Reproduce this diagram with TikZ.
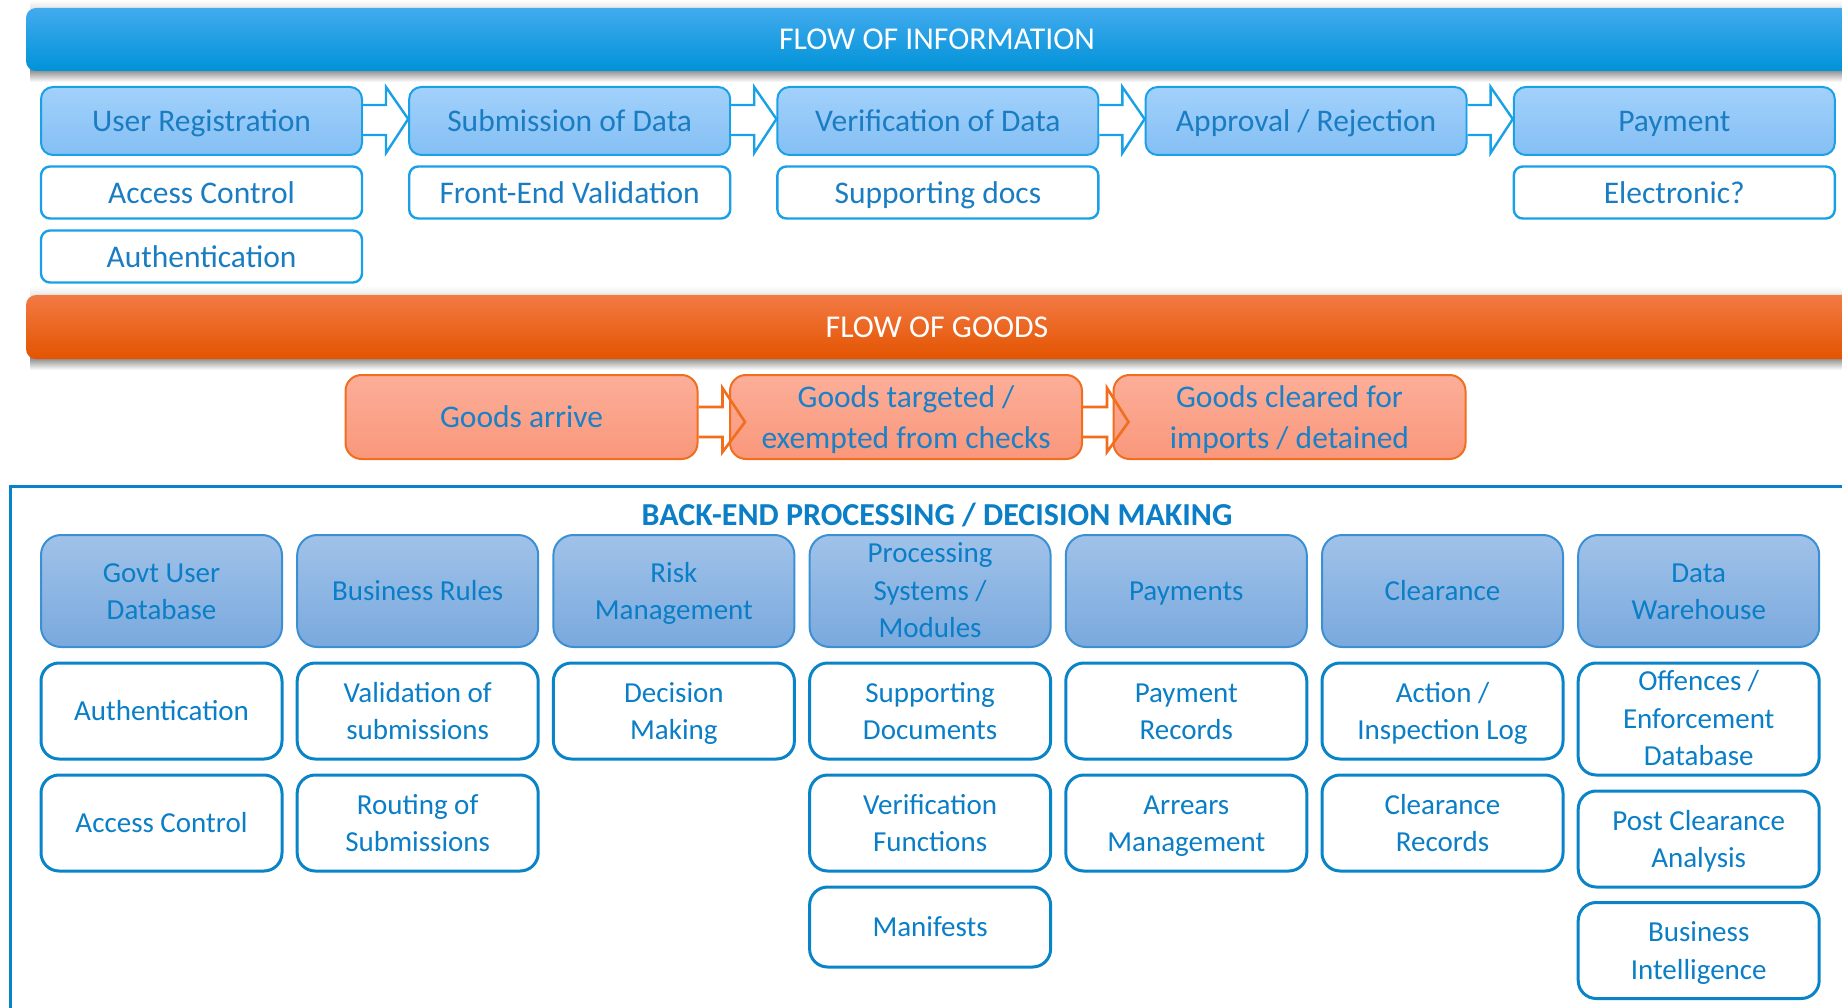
\documentclass[tikz,border=0pt]{standalone}
\usepackage{fontspec}
\setmainfont{Carlito}
\usetikzlibrary{calc}
\definecolor{bannerTop}{HTML}{42ABEE}
\definecolor{bannerMid}{HTML}{02A3E9}
\definecolor{bannerBot}{HTML}{0092D8}
\definecolor{orTop}{HTML}{F37A44}
\definecolor{orMid}{HTML}{F56300}
\definecolor{orBot}{HTML}{E35400}
\definecolor{infoTop}{HTML}{A2D1FB}
\definecolor{infoBot}{HTML}{84BFF4}
\definecolor{infoLine}{HTML}{1AA0E6}
\definecolor{infoText}{HTML}{1A7DC2}
\definecolor{beTop}{HTML}{A0C2E9}
\definecolor{beBot}{HTML}{7AA9DD}
\definecolor{beLine}{HTML}{3A90D2}
\definecolor{beSub}{HTML}{0A84C8}
\definecolor{beText}{HTML}{0A7EC6}
\definecolor{gTop}{HTML}{FCAE99}
\definecolor{gBot}{HTML}{F9977B}
\definecolor{gLine}{HTML}{F06E1E}
\definecolor{gText}{HTML}{1A80C8}
\definecolor{panelLine}{HTML}{0A82C8}
\begin{document}
\begin{tikzpicture}[x=1pt,y=-1pt,
  banner/.style={rounded corners=10pt},
  bannertext/.style={text=white, font=\fontsize{31.8}{38}\selectfont, inner sep=0pt},
  bigtext/.style={font=\fontsize{31.5}{41.5}\selectfont, align=center,
    execute at begin node={\rule{0pt}{28.3pt}}, execute at end node={\rule[-6.9pt]{0pt}{6.9pt}}},
  smalltext/.style={font=\fontsize{29}{37.4}\selectfont, align=center,
    execute at begin node={\rule{0pt}{26.1pt}}, execute at end node={\rule[-6.4pt]{0pt}{6.4pt}}},
  twos/.style={text height=57.1pt, text depth=0pt},
  threes/.style={text height=93pt, text depth=0pt},
  twob/.style={text height=63.4pt, text depth=0pt},
  infohead/.style={bigtext, draw=infoLine, line width=2pt, rounded corners=12pt, top color=infoTop, bottom color=infoBot,
    minimum width=321pt, minimum height=68pt, inner sep=0pt, text=infoText},
  infosub/.style={bigtext, draw=infoLine, line width=2.4pt, rounded corners=9pt, fill=white,
    minimum width=321pt, minimum height=52pt, inner sep=0pt, text=infoText},
  infoarrow/.style={draw=infoLine, line width=2.4pt, fill=white, line join=miter},
  goods/.style={bigtext, draw=gLine, line width=2pt, rounded corners=16pt, top color=gTop, bottom color=gBot,
    minimum width=352pt, minimum height=84pt, inner sep=0pt, text=gText},
  goodsarrow/.style={draw=gLine, line width=2.6pt, line join=miter},
  behead/.style={smalltext, draw=beLine, line width=2pt, rounded corners=20pt, top color=beTop, bottom color=beBot,
    minimum width=241pt, minimum height=112pt, inner sep=0pt, text=beText},
  besub/.style={smalltext, draw=beSub, line width=3pt, rounded corners=18pt, fill=white,
    minimum width=241pt, minimum height=96pt, inner sep=0pt, text=beText},
]
\clip (0,0) rectangle (1842,1008);
\fill[white] (0,0) rectangle (1842,1008);

% ---------- FLOW OF INFORMATION banner ----------
\shade[top color=black!60, bottom color=white] (30,66) rectangle (1842,82);
\shade[top color=white, bottom color=black!12] (30,0) rectangle (1842,10);
\shade[banner, top color=bannerTop, middle color=bannerMid, bottom color=bannerBot] (26,8) rectangle (1880,71);
\node[bannertext] (infotitle) at (937,39) {FLOW OF INFORMATION};

% info boxes
\node[infohead] (ur) at (201.5,121) {User Registration};
\node[infohead] (sd) at (569.7,121) {Submission of Data};
\node[infohead] (vd) at (937.9,121) {Verification of Data};
\node[infohead] (ar) at (1306.1,121) {Approval / Rejection};
\node[infohead] (pay) at (1674.3,121) {Payment};

\node[infosub] (ac) at (201.5,192.5) {Access Control};
\node[infosub] (au) at (201.5,256.5) {Authentication};
\node[infosub] (fev) at (569.7,192.5) {Front-End Validation};
\node[infosub] (sdocs) at (937.9,192.5) {Supporting docs};
\node[infosub] (el) at (1674.3,192.5) {Electronic?};

% info arrows
\foreach \a/\b in {ur/sd, sd/vd, vd/ar, ar/pay}{
  \draw[infoarrow] ($(\a.east)+(0,-16)$) -- ++(23,0) -- ++(0,-18) -- ($(\b.west)+(0,-2)$)
     -- ($(\a.east)+(23,32)$) -- ++(0,-18) -- ($(\a.east)+(0,14)$);
}

% ---------- FLOW OF GOODS banner ----------
\shade[top color=black!60, bottom color=white] (30,354) rectangle (1842,370);
\shade[top color=white, bottom color=black!10] (30,286) rectangle (1842,296);
\shade[banner, top color=orTop, middle color=orMid, bottom color=orBot] (26,295) rectangle (1880,359);
\node[bannertext] (goodstitle) at (937,327) {FLOW OF GOODS};

\node[goods] (ga) at (521.5,417) {Goods arrive};
\node[goods, twob] (gt) at (906,417) {Goods targeted /\\exempted from checks};
\node[goods, twob] (gc) at (1289.5,417) {Goods cleared for\\imports / detained};

\foreach \a/\b in {ga/gt, gt/gc}{
  \draw[goodsarrow] ($(\a.east)+(0,-10)$) -- ++(24,0) -- ++(0,-19) -- ($(\b.west)+(16,5)$)
     -- ($(\a.east)+(24,35)$) -- ++(0,-15) -- ($(\a.east)+(0,20)$);
}

% ---------- BACK-END panel ----------
\draw[panelLine, line width=3pt] (10,1030) -- (10,486.5) -- (1870,486.5);
\node[text=beText, font=\fontsize{32}{38}\selectfont\bfseries, inner sep=0pt] (betitle) at (937,515)
  {BACK-END PROCESSING / DECISION MAKING};

% column 0
\node[behead, twos] (h0) at (161.5,591) {Govt User\\Database};
\node[besub] (c0a) at (161.5,711) {Authentication};
\node[besub] (c0b) at (161.5,823) {Access Control};
% column 1
\node[behead] (h1) at (417.7,591) {Business Rules};
\node[besub, twos] (c1a) at (417.7,711) {Validation of\\submissions};
\node[besub, twos] (c1b) at (417.7,823) {Routing of\\Submissions};
% column 2
\node[behead, twos] (h2) at (673.9,591) {Risk\\Management};
\node[besub, twos] (c2a) at (673.9,711) {Decision\\Making};
% column 3
\node[behead, threes] (h3) at (930.1,591) {Processing\\Systems /\\Modules};
\node[besub, twos] (c3a) at (930.1,711) {Supporting\\Documents};
\node[besub, twos] (c3b) at (930.1,823) {Verification\\Functions};
\node[besub, minimum height=80pt] (c3c) at (930.1,927) {Manifests};
% column 4
\node[behead] (h4) at (1186.3,591) {Payments};
\node[besub, twos] (c4a) at (1186.3,711) {Payment\\Records};
\node[besub, twos] (c4b) at (1186.3,823) {Arrears\\Management};
% column 5
\node[behead] (h5) at (1442.5,591) {Clearance};
\node[besub, twos] (c5a) at (1442.5,711) {Action /\\Inspection Log};
\node[besub, twos] (c5b) at (1442.5,823) {Clearance\\Records};
% column 6
\node[behead, twos] (h6) at (1698.7,591) {Data\\Warehouse};
\node[besub, threes, minimum height=112pt] (c6a) at (1698.7,719) {Offences /\\Enforcement\\Database};
\node[besub, twos] (c6b) at (1698.7,839) {Post Clearance\\Analysis};
\node[besub, twos] (c6c) at (1698.7,950.5) {Business\\Intelligence};
\end{tikzpicture}
\end{document}
